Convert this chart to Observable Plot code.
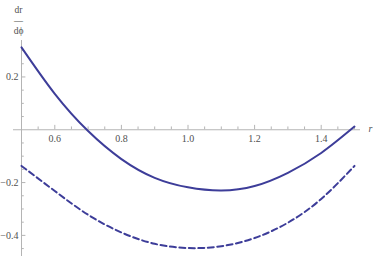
<!DOCTYPE html>
<html>
<head>
<meta charset="utf-8">
<script src="https://cdn.jsdelivr.net/npm/d3@7"></script>
<script src="https://cdn.jsdelivr.net/npm/@observablehq/plot@0.6"></script>
<style>
  html, body { margin: 0; padding: 0; background: #fff; }
  #chart svg { display: block; }
  #chart svg text { font-family: "Liberation Serif", "DejaVu Serif", "Times New Roman", serif !important; }
</style>
</head>
<body>
<div id="chart"></div>
<script>
// Data
const rValues      = [0.5, 0.6, 0.7, 0.8, 0.9, 1.0, 1.1, 1.2, 1.3, 1.4, 1.5];
const solidValues  = [0.312, 0.136, -0.005, -0.111, -0.182, -0.218, -0.230, -0.213, -0.163, -0.088, 0.012];
const dashedValues = [-0.137, -0.232, -0.322, -0.389, -0.432, -0.448, -0.441, -0.410, -0.352, -0.262, -0.137];

const xMajorTicks = [0.6, 0.8, 1.0, 1.2, 1.4];
const xTickLabels = ["0.6", "0.8", "1.0", "1.2", "1.4"];
const xMinorTicks = [0.55, 0.65, 0.7, 0.75, 0.85, 0.9, 0.95, 1.05, 1.1, 1.15, 1.25, 1.3, 1.35, 1.45, 1.5];
const yMajorTicks = [0.2, -0.2, -0.4];
const yTickLabels = ["0.2", "\u22120.2", "\u22120.4"];
const yMinorTicks = [0.3, 0.25, 0.15, 0.1, 0.05, -0.05, -0.1, -0.15, -0.25, -0.3, -0.35, -0.45];

const solid = rValues.map((r, i) => ({r, v: solidValues[i]}));
const dashed = rValues.map((r, i) => ({r, v: dashedValues[i]}));

const color = "#3d3d99";
const axisColor = "#b4b4b4";
const labelColor = "#505050";
const font = "Liberation Serif";

const xLen = 4 / 333;   // tick lengths (data units)
const yLen = 4 / 265;

const chart = Plot.plot({
  width: 374,
  height: 256,
  marginLeft: 21,
  marginRight: 20,
  marginTop: 40,
  marginBottom: 0,
  x: {domain: [0.5, 1.5], axis: null},
  y: {domain: [-0.48, 0.338], axis: null},
  style: {background: "#fff"},
  marks: [
    // axes
    Plot.ruleY([0], {x1: 0.476, x2: 1.518, stroke: axisColor, strokeWidth: 1}),
    Plot.ruleX([0.5], {y1: -0.48, y2: 0.338, stroke: axisColor, strokeWidth: 1}),
    Plot.ruleX(xMajorTicks, {x: d => d, y1: 0, y2: yLen * 1.1, stroke: axisColor}),
    Plot.ruleX(xMinorTicks, {x: d => d, y1: 0, y2: yLen * 0.7, stroke: axisColor}),
    Plot.ruleY(yMajorTicks, {y: d => d, x1: 0.5, x2: 0.5 + xLen * 1.1, stroke: axisColor}),
    Plot.ruleY(yMinorTicks, {y: d => d, x1: 0.5, x2: 0.5 + xLen * 0.7, stroke: axisColor}),
    Plot.text(xMajorTicks, {x: d => d, y: 0, text: (d, i) => xTickLabels[i], dy: 9, fontSize: 10, fontFamily: font, fill: labelColor}),
    Plot.text(yMajorTicks, {x: 0.5, y: d => d, text: (d, i) => yTickLabels[i], dx: -3, textAnchor: "end", fontSize: 10, fontFamily: font, fill: labelColor}),
    // axis labels
    Plot.text(["r"], {x: 1.5, y: 0, dx: 16, dy: -1, fontStyle: "italic", fontSize: 10, fontFamily: font, fill: labelColor, textAnchor: "middle"}),
    Plot.text(["dr"], {frameAnchor: "top-left", dx: -3, dy: -34, fontSize: 9.5, fontFamily: font, fill: labelColor, textAnchor: "middle"}),
    Plot.text(["\u2014"], {frameAnchor: "top-left", dx: -3, dy: -24, fontSize: 9, fontFamily: font, fill: labelColor, textAnchor: "middle"}),
    Plot.text(["d\u03d5"], {frameAnchor: "top-left", dx: -3, dy: -13, fontSize: 9.5, fontFamily: font, fill: labelColor, textAnchor: "middle"}),
    // curves
    Plot.line(solid, {x: "r", y: "v", stroke: color, strokeWidth: 2, curve: "natural"}),
    Plot.line(dashed, {x: "r", y: "v", stroke: color, strokeWidth: 2, strokeDasharray: "6,3.5", curve: "natural"})
  ]
});
document.getElementById("chart").append(chart);
</script>
</body>
</html>
